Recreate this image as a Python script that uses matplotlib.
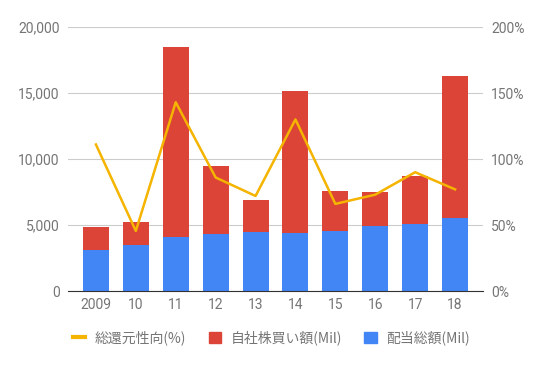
import numpy as np
import matplotlib.pyplot as plt
from matplotlib.ticker import FuncFormatter
from matplotlib.lines import Line2D
from matplotlib.patches import Patch

plt.rcParams['font.family'] = ['Roboto', 'Noto Sans CJK JP', 'DejaVu Sans']

# data
years = ['2009', '10', '11', '12', '13', '14', '15', '16', '17', '18']
dividend = [3130, 3480, 4090, 4340, 4490, 4390, 4550, 4950, 5100, 5550]
total = [4850, 5230, 18480, 9470, 6890, 15150, 7580, 7500, 8730, 16290]
buyback = [t - d for t, d in zip(total, dividend)]
payout = [111, 45.5, 143, 86, 72, 130, 66, 73, 90, 77]

blue = '#4285F4'
red = '#DB4437'
yellow = '#F4B400'
gray = '#757575'

fig = plt.figure(figsize=(5.43, 3.65), dpi=100)
ax = fig.add_axes([0.1252, 0.2027, 0.7643, 0.7233])
x = np.arange(len(years))
ax.bar(x, dividend, width=0.65, color=blue, zorder=2)
ax.bar(x, buyback, bottom=dividend, width=0.65, color=red, zorder=2)
ax.set_xlim(-0.7, len(years) - 0.3)
ax.set_ylim(0, 20000)
ax.set_yticks([0, 5000, 10000, 15000, 20000])
ax.yaxis.set_major_formatter(FuncFormatter(lambda v, p: f'{int(v):,}'))
ax.set_xticks(x)
ax.set_xticklabels(years)
ax.grid(axis='y', color='#cccccc', lw=0.8, zorder=0)
for s in ['top', 'right', 'left']:
    ax.spines[s].set_visible(False)
ax.spines['bottom'].set_color('#333333')
ax.tick_params(length=0, colors=gray, labelsize=10)
ax.tick_params(axis='y', pad=6)
ax.tick_params(axis='x', pad=5)

ax2 = ax.twinx()
ax2.plot(x, payout, color=yellow, lw=1.8, zorder=3)
ax2.set_ylim(0, 200)
ax2.set_yticks([0, 50, 100, 150, 200])
ax2.yaxis.set_major_formatter(FuncFormatter(lambda v, p: f'{int(v)}%'))
for s in ax2.spines.values():
    s.set_visible(False)
ax2.tick_params(length=0, colors=gray, labelsize=10, pad=6)

handles = [Line2D([], [], color=yellow, lw=3),
           Patch(color=red), Patch(color=blue)]
labels = ['総還元性向(%)', '自社株買い額(Mil)', '配当総額(Mil)']
fig.legend(handles, labels, loc='center', bbox_to_anchor=(0.5, 0.074), ncol=3,
           frameon=False, labelcolor=gray, handlelength=0.9,
           handleheight=0.9, handletextpad=0.7, columnspacing=1.6,
           prop={'family': ['Noto Sans CJK JP', 'DejaVu Sans'], 'size': 10})

fig.savefig('out.png', dpi=100)
